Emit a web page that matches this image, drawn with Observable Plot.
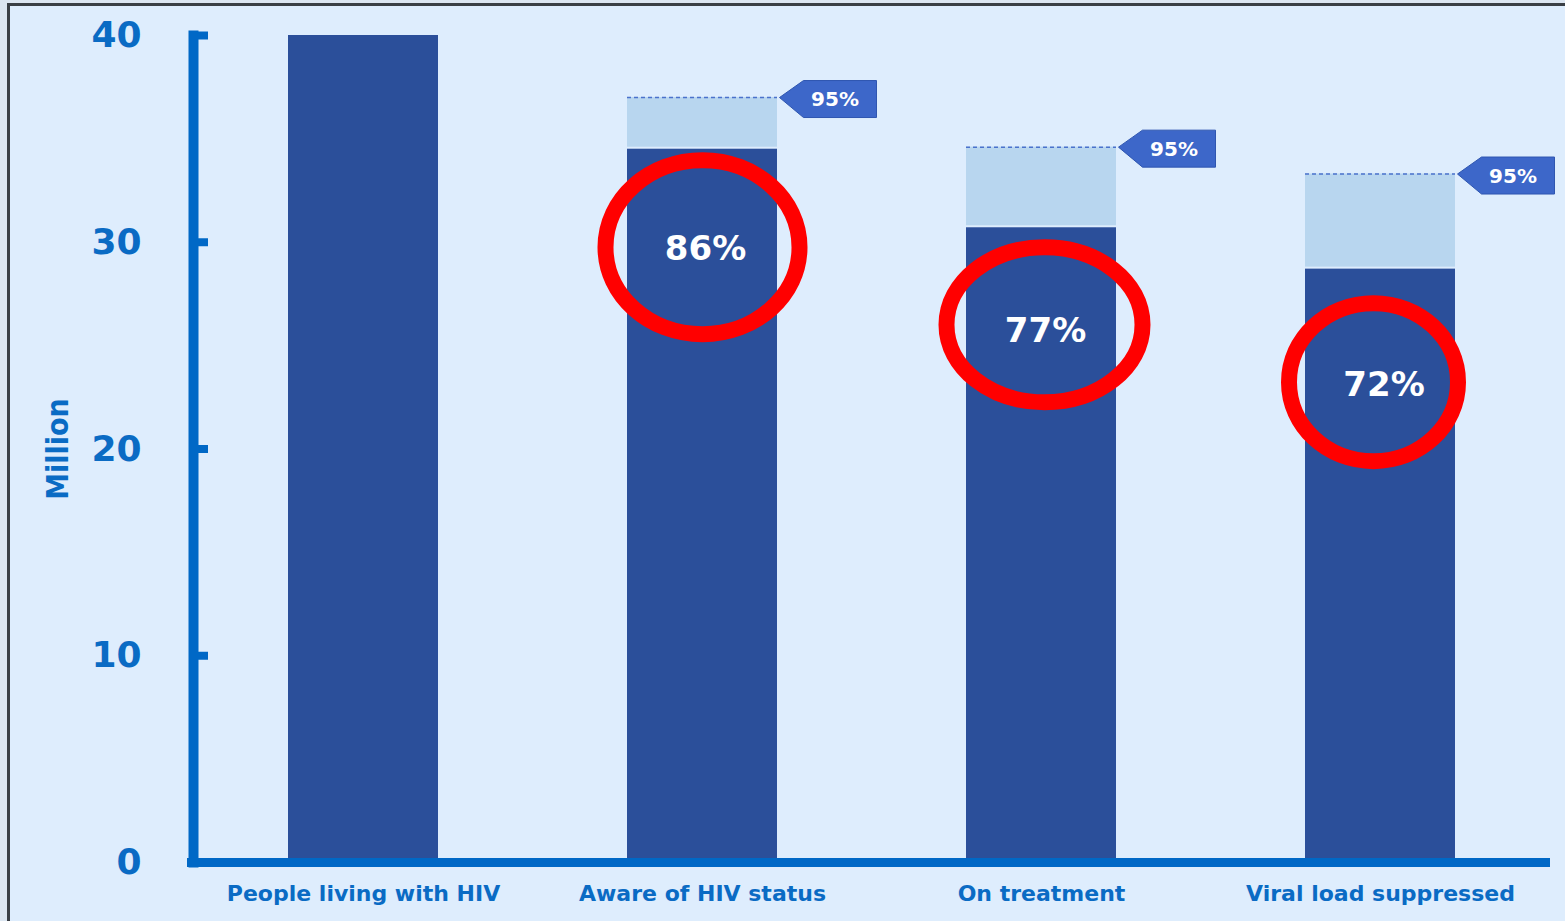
<!DOCTYPE html>
<html><head><meta charset="utf-8">
<script src="https://cdn.jsdelivr.net/npm/d3@7"></script>
<script src="https://cdn.jsdelivr.net/npm/@observablehq/plot@0.6"></script>
<style>
html,body{margin:0;padding:0;background:#dce6f1;width:1565px;height:921px;overflow:hidden;}
#frame{position:absolute;left:7px;top:3px;width:1600px;height:1000px;border-left:3px solid #3a3f45;border-top:3px solid #3a3f45;background:#deedfd;}
#chart{position:absolute;left:0;top:0;}
</style></head><body><div id="frame"></div><div id="chart"></div>
<script>
// ---- data ----
const categories = ["People living with HIV", "Aware of HIV status", "On treatment", "Viral load suppressed"];
const actualMillion = [40.0, 34.5, 30.7, 28.7];
const targetMillion = [null, 37.0, 34.6, 33.3];
const actualPct = [null, 86, 77, 72];
const targetPct = [null, 95, 95, 95];
const yTicks = [0, 10, 20, 30, 40];
const yLabel = "Million";

// ---- styles ----
const dark = "#2b4f9a", light = "#b8d6ef", axisBlue = "#0068c6", textBlue = "#0a6bc4";
const font = "DejaVu Sans";

const rows = categories.map((c, i) => ({category: c, actual: actualMillion[i], target: targetMillion[i], pct: actualPct[i], tpct: targetPct[i]}));
const withTarget = rows.filter(d => d.target != null);

const K = 0.5522847;
const ellipse = (rx, ry) => ({draw(ctx) {
  ctx.moveTo(rx, 0);
  ctx.bezierCurveTo(rx, K * ry, K * rx, ry, 0, ry);
  ctx.bezierCurveTo(-K * rx, ry, -rx, K * ry, -rx, 0);
  ctx.bezierCurveTo(-rx, -K * ry, -K * rx, -ry, 0, -ry);
  ctx.bezierCurveTo(K * rx, -ry, rx, -K * ry, rx, 0);
  ctx.closePath();
}});
const callout = {draw(ctx) {
  ctx.moveTo(0, 0); ctx.lineTo(24, -17); ctx.lineTo(97, -17); ctx.lineTo(97, 20); ctx.lineTo(24, 20); ctx.closePath();
}};

// annotation layout (pixel offsets of labels / ellipses per bar)
const annotLayout = [
  null,
  {tdx: 3, tdy: 100, edx: 0, edy: 98, rx: 97, ry: 87},
  {tdx: 4, tdy: 103, edx: 3, edy: 97, rx: 98, ry: 77.5},
  {tdx: 3.5, tdy: 116, edx: -7, edy: 113, rx: 84.5, ry: 79}
];
const annotMarks = [];
rows.forEach((d, i) => {
  const L = annotLayout[i];
  if (!L || d.pct == null) return;
  annotMarks.push(Plot.text([d], {x: "category", y: "actual", text: v => v.pct + "%", dx: L.tdx, dy: L.tdy,
    fill: "white", fontSize: 34, fontWeight: "bold", fontFamily: font}));
  annotMarks.push(Plot.dot([d], {x: "category", y: "actual", symbol: ellipse(L.rx, L.ry), dx: L.edx, dy: L.edy,
    fill: "none", stroke: "#ff0000", strokeWidth: 16}));
});

const chart = Plot.plot({
  width: 1565, height: 921,
  marginTop: 35, marginBottom: 59, marginLeft: 193, marginRight: 15,
  style: {background: "transparent", fontFamily: font, overflow: "visible"},
  x: {domain: categories, paddingInner: 0.558, paddingOuter: 0.279, label: null, axis: null},
  y: {domain: [0, 40], label: null, axis: null},
  marks: [
    Plot.barY(withTarget, {x: "category", y1: "actual", y2: "target", fill: light, insetBottom: 2}),
    Plot.barY(rows, {x: "category", y: "actual", fill: dark}),
    Plot.tickY(withTarget, {x: "category", y: "target", stroke: "#4a72cc", strokeWidth: 1.5, strokeDasharray: "4,3"}),
    Plot.dot(withTarget, {x: "category", y: "target", symbol: callout, dx: 77, fill: "#3d67c9", stroke: "#2f56b0", strokeWidth: 1}),
    Plot.text(withTarget, {x: "category", y: "target", text: d => d.tpct + "%", dx: 132.5, dy: 2.5,
      fill: "white", fontSize: 20, fontWeight: "bold", fontFamily: font}),
    ...annotMarks,
    Plot.frame({anchor: "left", stroke: axisBlue, strokeWidth: 10}),
    Plot.ruleY([0], {stroke: axisBlue, strokeWidth: 9, insetLeft: -6}),
    Plot.axisY({ticks: yTicks, tickSize: 15, dx: 15, tickFormat: () => "", stroke: axisBlue, strokeWidth: 8, label: null}),
    Plot.axisY({ticks: yTicks, tickSize: 0, tickPadding: 52, fontSize: 36, fontWeight: "bold", fill: textBlue, label: null, fontFamily: font}),
    Plot.axisX({tickSize: 0, tickPadding: 23, fontSize: 22, fontWeight: "bold", fill: textBlue, label: null, fontFamily: font}),
    Plot.text([yLabel], {frameAnchor: "left", textAnchor: "middle", rotate: -90, dx: -135, fontSize: 30, fontWeight: "bold",
      fill: textBlue, fontFamily: "Liberation Sans Narrow, DejaVu Sans Condensed, DejaVu Sans"})
  ]
});
document.getElementById("chart").appendChild(chart);
</script></body></html>
